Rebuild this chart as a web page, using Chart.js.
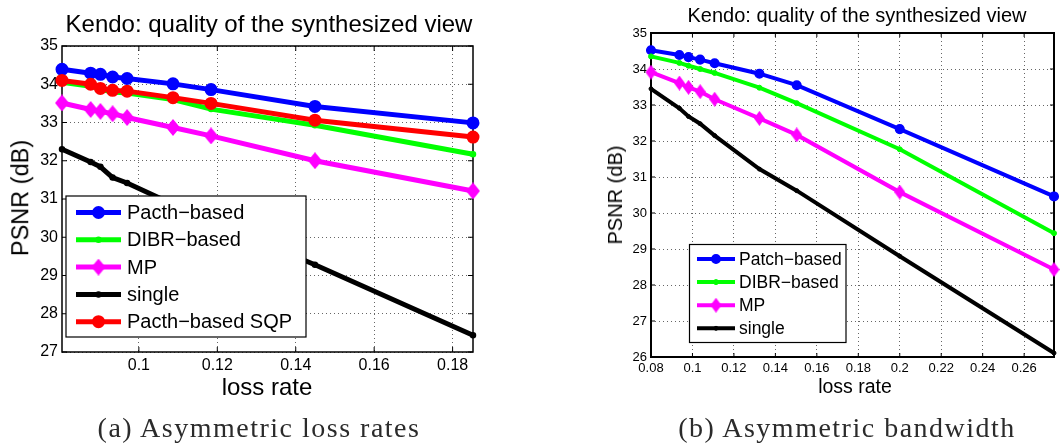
<!DOCTYPE html>
<html lang="en">
<head>
<meta charset="UTF-8">
<title>Kendo: quality of the synthesized view</title>
<script src="https://cdn.jsdelivr.net/npm/chart.js"></script>
<style>
  body {
    margin: 0;
    background: #fff;
    width: 1061px;
    height: 443px;
    position: relative;
    overflow: hidden;
    font-family: 'Liberation Sans', Arial, sans-serif;
    color: #000;
  }
  canvas { position: absolute; top: 0; }
  #chartA { left: 0; }
  #chartB { left: 530px; }
  .lbl {
    position: absolute;
    white-space: nowrap;
    line-height: 1;
    transform: translate(-50%, -50%);
  }
  .ylbl { transform: translate(-50%, -50%) rotate(-90deg); }
  .cap {
    font-family: 'Liberation Serif', serif;
    font-size: 28px;
    letter-spacing: 1.5px;
    color: #2b2b2b;
  }
</style>
</head>
<body>
<canvas id="chartA" width="530" height="443"></canvas>
<canvas id="chartB" width="531" height="443"></canvas>

<div class="lbl" style="left:269px;top:24px;font-size:24px">Kendo: quality of the synthesized view</div>
<div class="lbl ylbl" style="left:21px;top:198px;font-size:23.5px">PSNR (dB)</div>
<div class="lbl" style="left:267px;top:387px;font-size:24px">loss rate</div>
<div class="lbl cap" style="left:259px;top:428px">(a) Asymmetric loss rates</div>

<div class="lbl" style="left:857px;top:15px;font-size:20px">Kendo: quality of the synthesized view</div>
<div class="lbl ylbl" style="left:615px;top:195px;font-size:20px">PSNR (dB)</div>
<div class="lbl" style="left:855px;top:387px;font-size:19.5px">loss rate</div>
<div class="lbl cap" style="left:847px;top:428px">(b) Asymmetric bandwidth</div>

<script>
  // (a) asymmetric loss rates
  const lossA = [0.0804, 0.0877, 0.0902, 0.0933, 0.0970, 0.1087, 0.1184, 0.1449, 0.1852];
  const patchA = [34.39, 34.29, 34.26, 34.19, 34.15, 34.01, 33.86, 33.42, 32.99];
  const dibrA = [34.05, 33.95, 33.87, 33.80, 33.77, 33.60, 33.35, 32.93, 32.17];
  const mpA = [33.51, 33.34, 33.29, 33.23, 33.13, 32.87, 32.65, 32.00, 31.21];
  const singleA = [32.30, 31.97, 31.84, 31.56, 31.42, 30.86, 30.42, 29.28, 27.44];
  const sqpA = [34.10, 34.00, 33.89, 33.84, 33.82, 33.65, 33.50, 33.06, 32.62];
  const namesA = ['Pacth−based', 'DIBR−based', 'MP', 'single', 'Pacth−based SQP'];
  const xTicksA = [0.1, 0.12, 0.14, 0.16, 0.18];
  const yTicksA = [27, 28, 29, 30, 31, 32, 33, 34, 35];

  // (b) asymmetric bandwidth
  const lossB = [0.08, 0.0937, 0.0981, 0.1037, 0.1107, 0.1323, 0.1503, 0.2, 0.2744];
  const patchB = [34.52, 34.39, 34.33, 34.26, 34.16, 33.87, 33.55, 32.33, 30.46];
  const dibrB = [34.35, 34.17, 34.09, 34.00, 33.89, 33.48, 33.05, 31.77, 29.44];
  const mpB = [33.91, 33.61, 33.49, 33.37, 33.16, 32.63, 32.17, 30.58, 28.43];
  const singleB = [33.45, 32.91, 32.68, 32.48, 32.15, 31.22, 30.62, 28.80, 26.11];
  const namesB = ['Patch−based', 'DIBR−based', 'MP', 'single'];
  const xTicksB = [0.08, 0.1, 0.12, 0.14, 0.16, 0.18, 0.2, 0.22, 0.24, 0.26];
  const yTicksB = [26, 27, 28, 29, 30, 31, 32, 33, 34, 35];

  // MATLAB-style diamond: a little taller than it is wide
  function diamond(w, h, color) {
    const c = document.createElement('canvas');
    c.width = w;
    c.height = h;
    const g = c.getContext('2d');
    g.fillStyle = color;
    g.beginPath();
    g.moveTo(0, h / 2);
    g.lineTo(w / 2, 0);
    g.lineTo(w, h / 2);
    g.lineTo(w / 2, h);
    g.closePath();
    g.fill();
    return c;
  }

  function series(label, xs, ys, color, shape, r, bw, lw) {
    return {
      label: label,
      data: xs.map((x, i) => ({ x: x, y: ys[i] })),
      borderColor: color,
      backgroundColor: color,
      borderWidth: lw,
      pointStyle: shape,
      pointRadius: r,
      pointBorderWidth: bw,
      pointBackgroundColor: color,
      pointBorderColor: color,
      tension: 0,
      clip: false
    };
  }

  function marker(ctx, ds, x, y) {
    if (ds.pointStyle instanceof HTMLCanvasElement) {
      const img = ds.pointStyle;
      ctx.drawImage(img, x - img.width / 2, y - img.height / 2);
      return;
    }
    ctx.beginPath();
    ctx.arc(x, y, ds.pointRadius, 0, Math.PI * 2);
    ctx.fillStyle = ds.pointBackgroundColor;
    ctx.fill();
    ctx.lineWidth = ds.pointBorderWidth;
    ctx.strokeStyle = ds.pointBorderColor;
    ctx.stroke();
  }

  // axes box with inward ticks, plus a legend box inside the plot
  const frame = {
    id: 'frame',
    beforeDatasetsDraw(chart, args, o) {
      const { ctx, chartArea: a, scales: { x, y } } = chart;
      ctx.save();
      ctx.strokeStyle = '#000';
      ctx.lineWidth = 1;
      ctx.beginPath();
      x.ticks.forEach(t => {
        const p = x.getPixelForValue(t.value);
        ctx.moveTo(p, a.bottom); ctx.lineTo(p, a.bottom - o.tick);
        ctx.moveTo(p, a.top); ctx.lineTo(p, a.top + o.tick);
      });
      y.ticks.forEach(t => {
        const p = y.getPixelForValue(t.value);
        ctx.moveTo(a.left, p); ctx.lineTo(a.left + o.tick, p);
        ctx.moveTo(a.right, p); ctx.lineTo(a.right - o.tick, p);
      });
      ctx.stroke();
      ctx.lineWidth = o.width;
      ctx.strokeRect(a.left, a.top, a.right - a.left, a.bottom - a.top);
      ctx.restore();
    },
    afterDatasetsDraw(chart, args, o) {
      const ctx = chart.ctx;
      const L = o.legend;
      ctx.save();
      ctx.fillStyle = '#fff';
      ctx.fillRect(L.x, L.y, L.w, L.h);
      ctx.strokeStyle = '#000';
      ctx.lineWidth = 1.2;
      ctx.strokeRect(L.x, L.y, L.w, L.h);
      ctx.font = L.font;
      ctx.textBaseline = 'middle';
      chart.data.datasets.forEach((ds, i) => {
        const ry = L.y + L.first + i * L.step;
        ctx.strokeStyle = ds.borderColor;
        ctx.lineWidth = ds.borderWidth;
        ctx.beginPath();
        ctx.moveTo(L.x0, ry);
        ctx.lineTo(L.x1, ry);
        ctx.stroke();
        marker(ctx, ds, (L.x0 + L.x1) / 2, ry);
        ctx.fillStyle = '#000';
        ctx.fillText(ds.label, L.tx, ry + 1);
      });
      ctx.restore();
    }
  };

  function makeChart(id, datasets, xr, yr, xTicks, yTicks, geo) {
    datasets.forEach((d, i) => { d.order = datasets.length - i; });
    return new Chart(document.getElementById(id), {
      type: 'line',
      data: { datasets: datasets },
      plugins: [frame],
      options: {
        responsive: false,
        animation: false,
        events: [],
        layout: { padding: { left: 0, top: geo.top, right: geo.right, bottom: 0 } },
        plugins: {
          legend: { display: false },
          tooltip: { enabled: false },
          frame: { width: geo.frame, tick: geo.tick, legend: geo.legend }
        },
        scales: {
          x: {
            type: 'linear',
            min: xr[0],
            max: xr[1],
            afterBuildTicks: s => { s.ticks = xTicks.map(v => ({ value: v })); },
            afterFit: s => { s.height = geo.xh; },
            ticks: {
              color: '#000',
              padding: 4,
              maxRotation: 0,
              autoSkip: false,
              font: { family: 'Liberation Sans', size: geo.tickFont },
              callback: v => String(v)
            },
            grid: { color: 'rgba(0,0,0,0.6)', drawTicks: false, lineWidth: 1 },
            border: { display: false, dash: [1, 3] }
          },
          y: {
            min: yr[0],
            max: yr[1],
            afterBuildTicks: s => { s.ticks = yTicks.map(v => ({ value: v })); },
            afterFit: s => { s.width = geo.yw; },
            ticks: {
              color: '#000',
              padding: 4,
              autoSkip: false,
              font: { family: 'Liberation Sans', size: geo.tickFont },
              callback: v => String(v)
            },
            grid: { color: 'rgba(0,0,0,0.6)', drawTicks: false, lineWidth: 1 },
            border: { display: false, dash: [1, 3] }
          }
        }
      }
    });
  }

  makeChart('chartA', [
    series(namesA[0], lossA, patchA, '#0000ff', 'circle', 5.5, 2, 5),
    series(namesA[1], lossA, dibrA, '#00ff00', 'circle', 2.5, 1.5, 5),
    series(namesA[2], lossA, mpA, '#ff00ff', diamond(14, 17, '#ff00ff'), 8, 0, 5),
    series(namesA[3], lossA, singleA, '#000000', 'circle', 2.5, 1.5, 5),
    series(namesA[4], lossA, sqpA, '#ff0000', 'circle', 5.5, 2, 5)
  ], [0.0804, 0.1852], [27, 35], xTicksA, yTicksA, {
    top: 46, right: 57, xh: 91, yw: 62, frame: 1.5, tick: 5, tickFont: 16,
    legend: { x: 66, y: 196, w: 240, h: 141, first: 16.5, step: 27.3, x0: 76, x1: 121, tx: 127, font: '20px "Liberation Sans"' }
  });

  makeChart('chartB', [
    series(namesB[0], lossB, patchB, '#0000ff', 'circle', 4.3, 1.5, 4),
    series(namesB[1], lossB, dibrB, '#00ff00', 'circle', 2.5, 1, 4),
    series(namesB[2], lossB, mpB, '#ff00ff', diamond(11, 15, '#ff00ff'), 7, 0, 4),
    series(namesB[3], lossB, singleB, '#000000', 'circle', 2, 1, 4)
  ], [0.08, 0.2744], [26, 35], xTicksB, yTicksB, {
    top: 33, right: 1.5, xh: 86, yw: 121, frame: 2, tick: 4, tickFont: 13,
    legend: { x: 159.5, y: 244.5, w: 156.5, h: 98, first: 14.5, step: 23.1, x0: 167, x1: 205, tx: 209, font: '17.5px "Liberation Sans"' }
  });
</script>
</body>
</html>
